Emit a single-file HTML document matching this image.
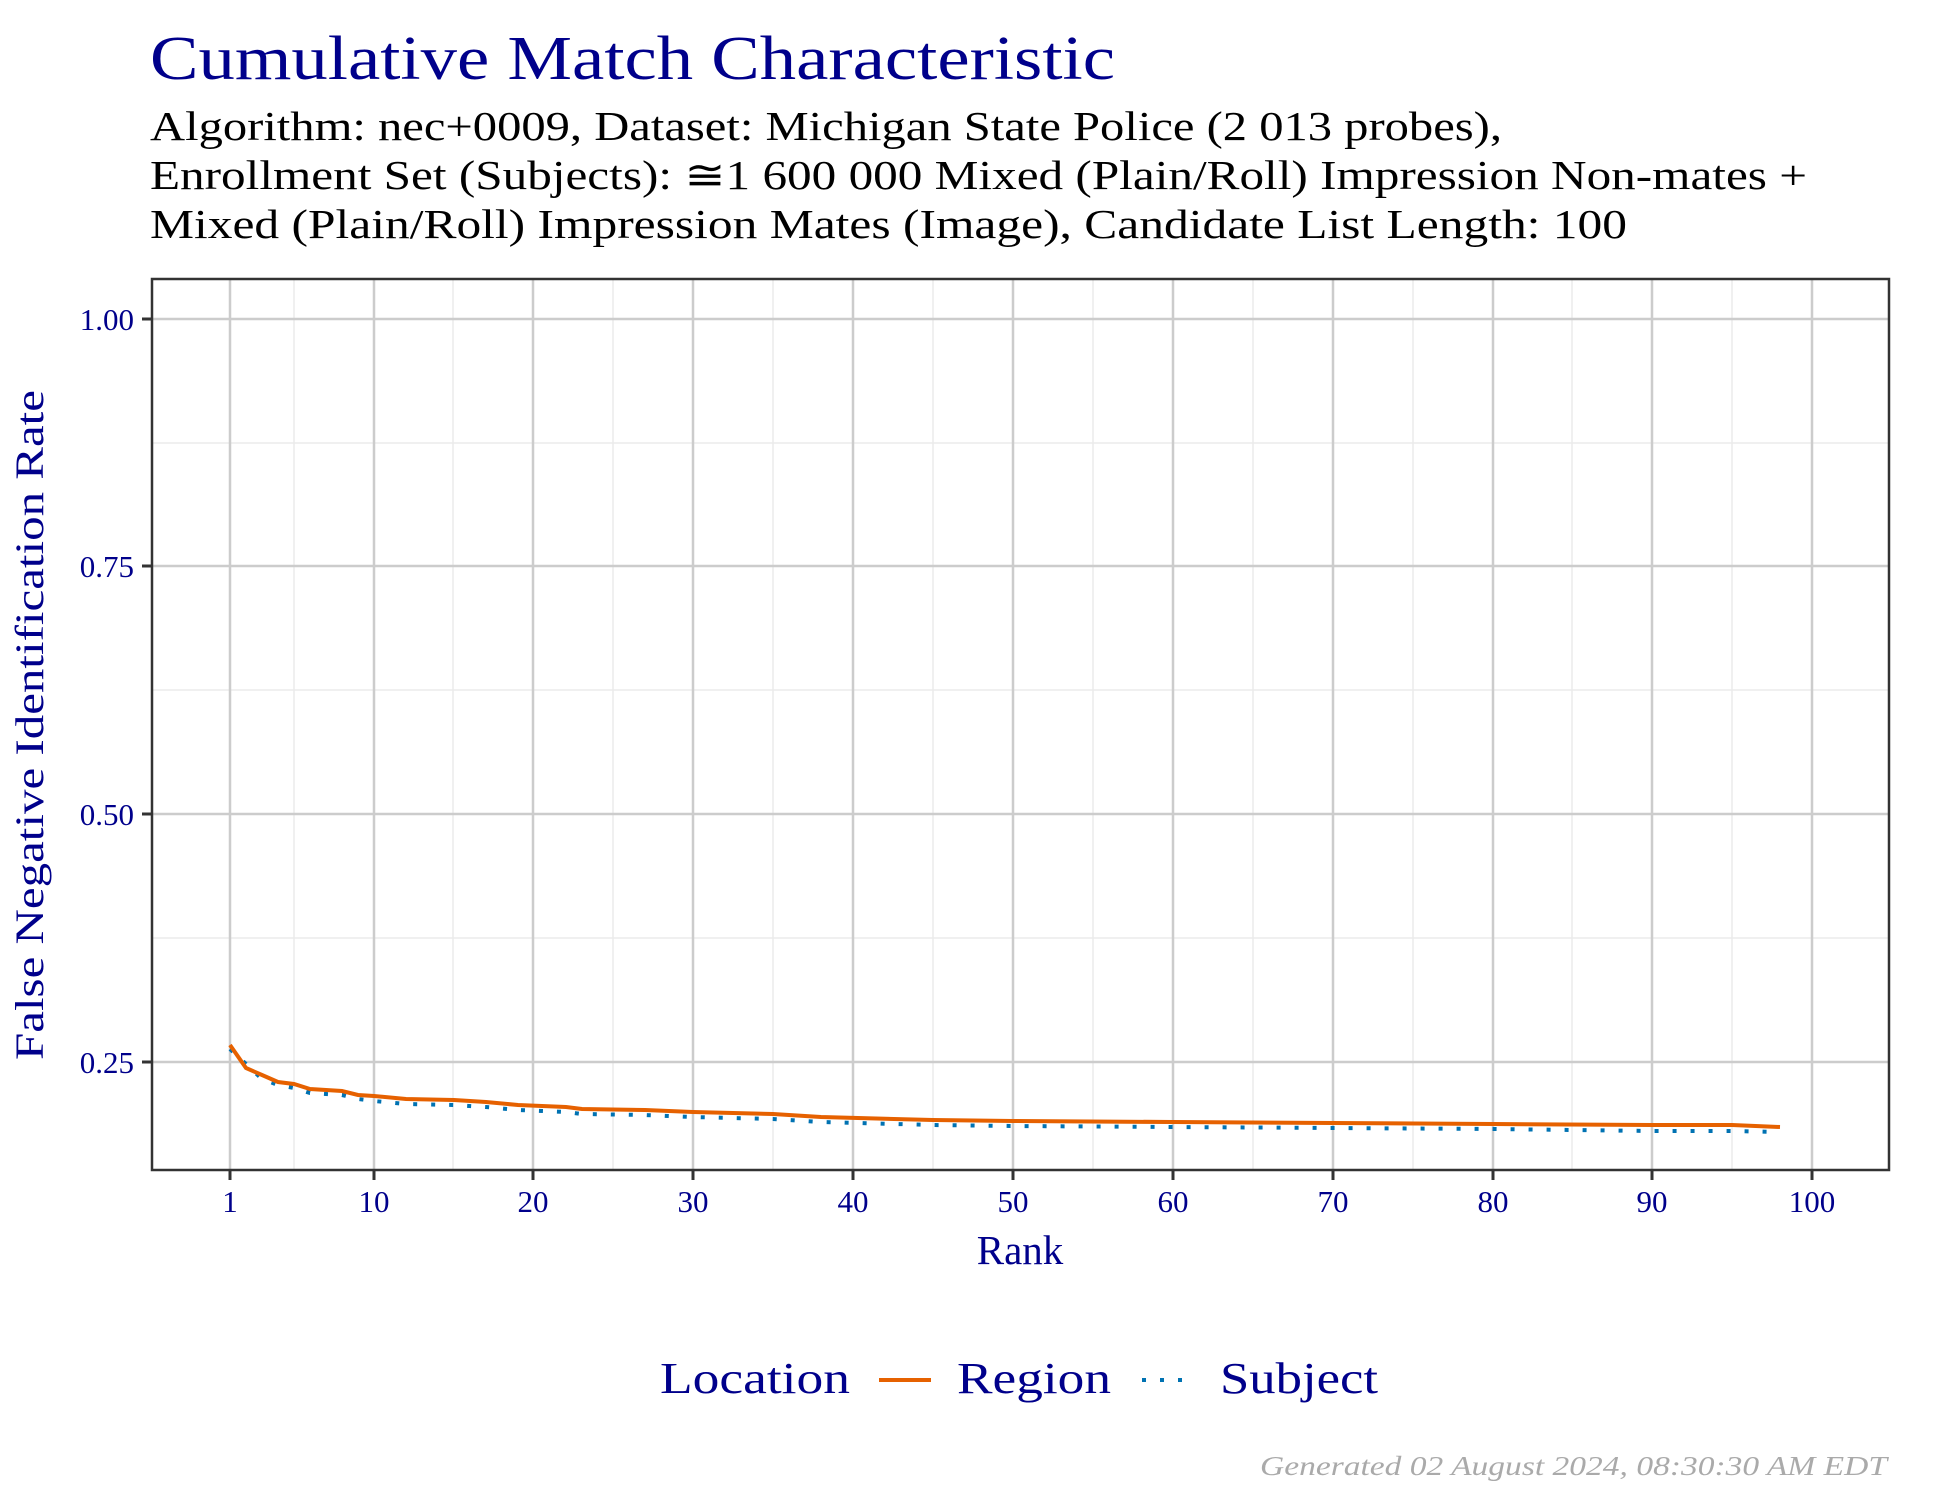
<!DOCTYPE html>
<html><head><meta charset="utf-8"><style>html,body{margin:0;padding:0;background:#fff}svg{display:block}</style></head>
<body>
<svg width="1950" height="1500" viewBox="0 0 1950 1500" xmlns="http://www.w3.org/2000/svg" font-family="'Liberation Serif', serif">
<rect width="1950" height="1500" fill="#fff"/>
<text x="150" y="79" font-size="62" fill="#00008B" textLength="965" lengthAdjust="spacingAndGlyphs">Cumulative Match Characteristic</text>
<g font-size="41" fill="#000">
<text x="150" y="140" textLength="1352" lengthAdjust="spacingAndGlyphs">Algorithm: nec+0009, Dataset: Michigan State Police (2 013 probes),</text>
<text x="150" y="189" textLength="1657" lengthAdjust="spacingAndGlyphs">Enrollment Set (Subjects): ≅1 600 000 Mixed (Plain/Roll) Impression Non-mates +</text>
<text x="150" y="238" textLength="1477" lengthAdjust="spacingAndGlyphs">Mixed (Plain/Roll) Impression Mates (Image), Candidate List Length: 100</text>
</g>
<g stroke="#ebebeb" stroke-width="1.5">
<line x1="152" x2="1889" y1="443" y2="443"/><line x1="152" x2="1889" y1="690" y2="690"/><line x1="152" x2="1889" y1="938" y2="938"/>
<line x1="294" x2="294" y1="279" y2="1170"/><line x1="453" x2="453" y1="279" y2="1170"/><line x1="613" x2="613" y1="279" y2="1170"/><line x1="773" x2="773" y1="279" y2="1170"/><line x1="933" x2="933" y1="279" y2="1170"/><line x1="1093" x2="1093" y1="279" y2="1170"/><line x1="1253" x2="1253" y1="279" y2="1170"/><line x1="1413" x2="1413" y1="279" y2="1170"/><line x1="1572" x2="1572" y1="279" y2="1170"/><line x1="1732" x2="1732" y1="279" y2="1170"/>
</g>
<g stroke="#cccccc" stroke-width="2.5">
<line x1="152" x2="1889" y1="319" y2="319"/><line x1="152" x2="1889" y1="566" y2="566"/><line x1="152" x2="1889" y1="814" y2="814"/><line x1="152" x2="1889" y1="1062" y2="1062"/>
<line x1="230" x2="230" y1="279" y2="1170"/><line x1="374" x2="374" y1="279" y2="1170"/><line x1="533" x2="533" y1="279" y2="1170"/><line x1="693" x2="693" y1="279" y2="1170"/><line x1="853" x2="853" y1="279" y2="1170"/><line x1="1013" x2="1013" y1="279" y2="1170"/><line x1="1173" x2="1173" y1="279" y2="1170"/><line x1="1333" x2="1333" y1="279" y2="1170"/><line x1="1493" x2="1493" y1="279" y2="1170"/><line x1="1652" x2="1652" y1="279" y2="1170"/><line x1="1812" x2="1812" y1="279" y2="1170"/>
</g>
<polyline fill="none" stroke="#0072B2" stroke-width="4" stroke-dasharray="4,14" points="230,1049 246,1064 262,1079 278,1085 294,1088 310,1093 342,1095 358,1099 374,1101 406,1104 454,1105 486,1107 518,1110 566,1112 582,1114 645,1115 693,1117 773,1119 821,1122 933,1125 1013,1126 1173,1127 1333,1128 1493,1129 1652,1131 1732,1131 1780,1132"/>
<polyline fill="none" stroke="#E66100" stroke-width="4" points="230,1045 246,1068 262,1075 278,1082 294,1084 310,1089 342,1091 358,1095 374,1096 406,1099 454,1100 486,1102 518,1105 566,1107 582,1109 645,1110 693,1112 773,1114 821,1117 933,1120 1013,1121 1173,1122 1333,1123 1493,1124 1652,1125 1732,1125 1780,1127"/>
<rect x="152" y="279" width="1737" height="891" fill="none" stroke="#333" stroke-width="2.5"/>
<g stroke="#333" stroke-width="3">
<line x1="142" x2="152" y1="319" y2="319"/><line x1="142" x2="152" y1="566" y2="566"/><line x1="142" x2="152" y1="814" y2="814"/><line x1="142" x2="152" y1="1062" y2="1062"/>
<line x1="230" x2="230" y1="1170" y2="1180"/><line x1="374" x2="374" y1="1170" y2="1180"/><line x1="533" x2="533" y1="1170" y2="1180"/><line x1="693" x2="693" y1="1170" y2="1180"/><line x1="853" x2="853" y1="1170" y2="1180"/><line x1="1013" x2="1013" y1="1170" y2="1180"/><line x1="1173" x2="1173" y1="1170" y2="1180"/><line x1="1333" x2="1333" y1="1170" y2="1180"/><line x1="1493" x2="1493" y1="1170" y2="1180"/><line x1="1652" x2="1652" y1="1170" y2="1180"/><line x1="1812" x2="1812" y1="1170" y2="1180"/>
</g>
<g font-size="31" fill="#00008B" text-anchor="end">
<text x="134" y="330">1.00</text><text x="134" y="577">0.75</text><text x="134" y="825">0.50</text><text x="134" y="1073">0.25</text>
</g>
<g font-size="31" fill="#00008B" text-anchor="middle">
<text x="230" y="1212">1</text><text x="374" y="1212">10</text><text x="533" y="1212">20</text><text x="693" y="1212">30</text><text x="853" y="1212">40</text><text x="1013" y="1212">50</text><text x="1173" y="1212">60</text><text x="1333" y="1212">70</text><text x="1493" y="1212">80</text><text x="1652" y="1212">90</text><text x="1812" y="1212">100</text>
</g>
<text x="1020" y="1264" font-size="41" fill="#00008B" text-anchor="middle">Rank</text>
<text transform="translate(43,725) rotate(-90)" font-size="40" fill="#00008B" text-anchor="middle" textLength="670" lengthAdjust="spacingAndGlyphs">False Negative Identification Rate</text>
<g font-size="44" fill="#00008B">
<text x="660" y="1393" textLength="190" lengthAdjust="spacingAndGlyphs">Location</text>
<text x="957" y="1393" textLength="154" lengthAdjust="spacingAndGlyphs">Region</text>
<text x="1220" y="1393" textLength="158" lengthAdjust="spacingAndGlyphs">Subject</text>
</g>
<line x1="879" x2="931" y1="1380" y2="1380" stroke="#E66100" stroke-width="4"/>
<line x1="1142" x2="1188" y1="1380" y2="1380" stroke="#0072B2" stroke-width="4" stroke-dasharray="4,14"/>
<text x="1887" y="1475" font-size="27" font-style="italic" fill="#aaaaaa" text-anchor="end" textLength="627" lengthAdjust="spacingAndGlyphs">Generated 02 August 2024, 08:30:30 AM EDT</text>
</svg>
</body></html>
